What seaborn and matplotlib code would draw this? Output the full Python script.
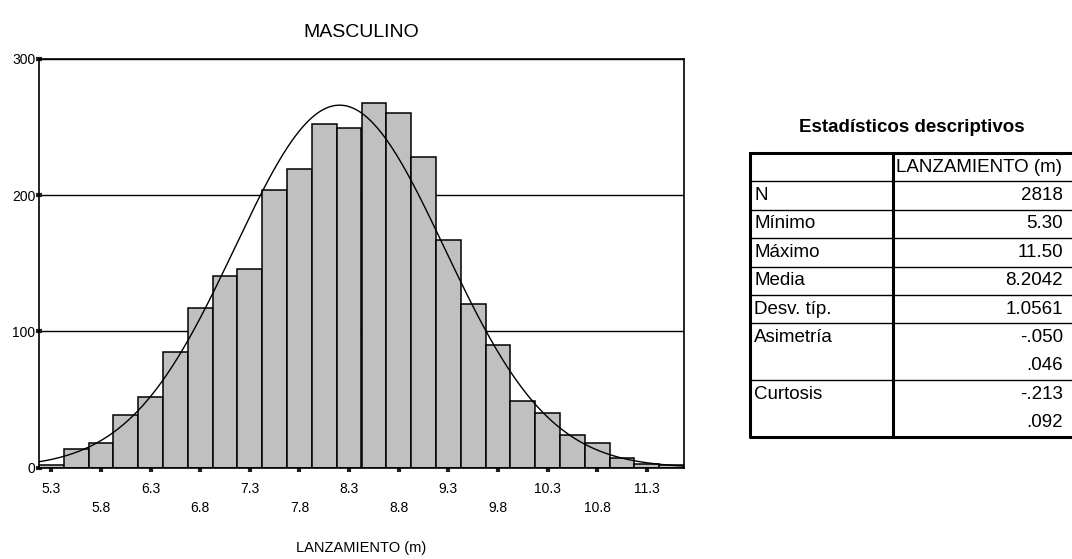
import numpy as np
import pandas as pd
import matplotlib
matplotlib.use("Agg")
import matplotlib.pyplot as plt
import seaborn as sns

# Frequency of throws per 0.25 m class (class centres in metres)
bin_centers = [5.30, 5.55, 5.80, 6.05, 6.30, 6.55, 6.80, 7.05, 7.30, 7.55,
               7.80, 8.05, 8.30, 8.55, 8.80, 9.05, 9.30, 9.55, 9.80, 10.05,
               10.30, 10.55, 10.80, 11.05, 11.30, 11.55]
counts = [2, 14, 18, 39, 52, 85, 117, 141, 146, 204,
          219, 252, 249, 268, 260, 228, 167, 120, 90, 49,
          40, 24, 18, 7, 3, 2]
bin_width = 0.25

# Descriptive statistics
n_obs = 2818
minimum = 5.30
maximum = 11.50
mean = 8.2042
std_dev = 1.0561

stat_labels = ["N", "Mínimo", "Máximo", "Media", "Desv. típ.",
               "Asimetría", "", "Curtosis", ""]
stat_values = ["2818", "5.30", "11.50", "8.2042", "1.0561",
               "-.050", ".046", "-.213", ".092"]

major_ticks = [5.3, 6.3, 7.3, 8.3, 9.3, 10.3, 11.3]
minor_ticks = [5.8, 6.8, 7.8, 8.8, 9.8, 10.8]
y_ticks = [0, 100, 200, 300]

sns.set_theme(style="white")
plt.rcParams["font.family"] = ["Liberation Sans", "DejaVu Sans"]

W, H = 1072, 559
fig = plt.figure(figsize=(W / 100, H / 100), dpi=100)
fig.patch.set_facecolor("white")

# ---- histogram panel ----
ax_l, ax_r, ax_t, ax_b = 39, 684, 59, 467.7
ax = fig.add_axes([ax_l / W, 1 - ax_b / H, (ax_r - ax_l) / W, (ax_b - ax_t) / H])

lo = bin_centers[0] - bin_width / 2
hi = bin_centers[-1] + bin_width / 2
edges = [float(e) for e in np.linspace(lo, hi, len(bin_centers) + 1)]

hist_df = pd.DataFrame({"lanzamiento": bin_centers, "frecuencia": counts})
sns.histplot(data=hist_df, x="lanzamiento", weights="frecuencia", bins=edges,
             stat="count", color="#c0c0c0", edgecolor="black", linewidth=1.1,
             alpha=1, ax=ax, zorder=2)

# normal curve scaled to the histogram
xs = np.linspace(lo, hi, 400)
ys = n_obs * bin_width * np.exp(-0.5 * ((xs - mean) / std_dev) ** 2) / (std_dev * np.sqrt(2 * np.pi))
sns.lineplot(x=xs, y=ys, color="black", linewidth=1.0, ax=ax, zorder=3)

ax.set_xlim(lo, hi)
ax.set_ylim(0, 300)
ax.set_yticks(y_ticks)
ax.set_yticklabels([str(v) for v in y_ticks])
ax.set_axisbelow(True)
ax.yaxis.grid(True, color="black", linewidth=1.0)
ax.xaxis.grid(False)
for s in ax.spines.values():
    s.set_visible(True)
    s.set_color("black")
    s.set_linewidth(1.2)

ax.set_xticks(major_ticks)
ax.set_xticklabels([f"{v:.1f}" for v in major_ticks])
ax.set_xticks(minor_ticks, minor=True)
ax.set_xticklabels([f"{v:.1f}" for v in minor_ticks], minor=True)
ax.tick_params(axis="x", which="both", direction="out", length=3, width=3,
               color="#222222", labelsize=10, labelcolor="black", bottom=True)
ax.tick_params(axis="x", which="major", pad=7)
ax.tick_params(axis="x", which="minor", pad=21)
ax.tick_params(axis="y", direction="inout", length=4, width=3, color="#222222",
               labelsize=10, labelcolor="black", pad=0.5, left=True)

ax.set_xlabel("LANZAMIENTO (m)", fontsize=10.5, color="black")
ax.xaxis.set_label_coords(0.5, -0.18)
ax.set_ylabel("")
ax.set_title("MASCULINO", fontsize=14, color="black", pad=16)

# ---- descriptive statistics table ----
fig.text(912 / W, 1 - 127 / H, "Estadísticos descriptivos", ha="center",
         va="center", fontsize=13.5, fontweight="bold", color="black")

t_left, t_right, t_top, t_bot = 750, 1095, 153, 437
tax = fig.add_axes([t_left / W, 1 - t_bot / H, (t_right - t_left) / W, (t_bot - t_top) / H])
tax.set_xlim(0, t_right - t_left)
tax.set_ylim(10, 0)
tax.axis("off")

div_x = 893 - t_left
val_x = 1063 - t_left
n_rows = 10
# row separators (none between the two lines of the same statistic)
for r in [1, 2, 3, 4, 5, 6, 8]:
    tax.plot([0, t_right - t_left], [r, r], color="black", linewidth=1.0,
             clip_on=False, solid_capstyle="butt")
tax.plot([0, 0, t_right - t_left, t_right - t_left, 0], [0, n_rows, n_rows, 0, 0],
         color="black", linewidth=2.2, clip_on=False)
tax.plot([div_x, div_x], [0, n_rows], color="black", linewidth=2.2, clip_on=False)

tfs = 13.5
tax.text(div_x + 3, 0.5, "LANZAMIENTO (m)", ha="left", va="center",
         fontsize=tfs, color="black", clip_on=False)
for i, (lab, val) in enumerate(zip(stat_labels, stat_values)):
    yc = i + 1.5
    if lab:
        tax.text(4, yc, lab, ha="left", va="center", fontsize=tfs, color="black")
    tax.text(val_x, yc, val, ha="right", va="center", fontsize=tfs, color="black")

fig.savefig("out.png", dpi=100, facecolor="white")
